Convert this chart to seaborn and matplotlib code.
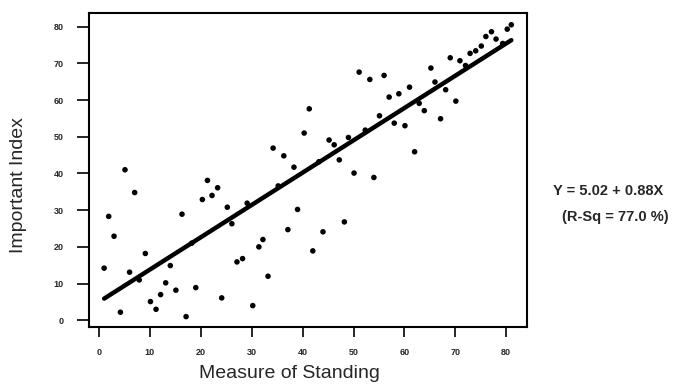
import numpy as np
import pandas as pd
import seaborn as sns
import matplotlib.pyplot as plt

standing = [1.0, 1.9, 2.95, 4.2, 5.1, 6.0, 7.0, 7.9, 9.1, 10.1, 11.2, 12.1, 13.1, 14.0,
            15.1, 16.3, 17.1, 18.2, 19.0, 20.3, 21.3, 22.2, 23.3, 24.1, 25.2, 26.1, 27.1,
            28.2, 29.1, 30.2, 31.4, 32.2, 33.2, 34.2, 35.2, 36.3, 37.1, 38.3, 39.0, 40.3,
            41.3, 42.0, 43.2, 44.0, 45.2, 46.2, 47.2, 48.2, 49.0, 50.1, 51.1, 52.3, 53.2,
            54.0, 55.1, 56.0, 57.0, 58.0, 58.9, 60.1, 61.0, 62.0, 62.9, 63.9, 65.2, 66.0,
            67.1, 68.1, 69.0, 70.1, 70.9, 72.0, 72.9, 74.0, 75.1, 76.0, 77.1, 78.0, 79.3,
            80.2, 81.0]
index = [14.2, 28.3, 22.9, 2.2, 41.0, 13.1, 34.8, 11.0, 18.2, 5.1, 3.0, 7.0, 10.2, 14.9,
         8.2, 28.9, 1.0, 21.0, 8.9, 32.9, 38.1, 34.0, 36.1, 6.1, 30.8, 26.3, 15.9,
         16.8, 31.9, 4.0, 20.0, 22.0, 12.0, 46.9, 36.6, 44.8, 24.7, 41.7, 30.2, 51.0,
         57.6, 18.9, 43.2, 24.1, 49.1, 47.8, 43.7, 26.8, 49.8, 40.1, 67.6, 51.8, 65.6,
         38.9, 55.7, 66.7, 60.8, 53.7, 61.7, 53.0, 63.5, 45.9, 59.1, 57.1, 68.7, 64.9,
         54.9, 62.8, 71.5, 59.7, 70.7, 69.4, 72.7, 73.4, 74.7, 77.3, 78.6, 76.6, 75.4,
         79.3, 80.5]

intercept = 5.02
slope = 0.88
fit_range = [1.0, 81.0]
ticks = [0, 10, 20, 30, 40, 50, 60, 70, 80]

df = pd.DataFrame({'standing': standing, 'index': index})
fit = pd.DataFrame({'x': fit_range})
fit['y'] = intercept + slope * fit['x']

sns.set_style("white")
plt.rcParams['font.family'] = ['Liberation Sans', 'DejaVu Sans']

fig = plt.figure(figsize=(6.82, 3.88), dpi=100)
ax = fig.add_axes([0.1305, 0.157, 0.642, 0.8095])

sns.scatterplot(data=df, x='standing', y='index', color='black', s=16,
                edgecolor='none', ax=ax)
sns.lineplot(data=fit, x='x', y='y', color='black', linewidth=3.2, ax=ax)

ax.set_xlim(-1.97, 84.05)
ax.set_ylim(-1.85, 83.7)
ax.set_xticks(ticks)
ax.set_yticks(ticks)
ax.tick_params(direction='out', width=1.2, labelsize=6.5, color='black',
               bottom=True, left=True)
ax.tick_params(axis='x', length=7, pad=8)
ax.tick_params(axis='y', length=9, pad=9)
for lab in ax.get_xticklabels() + ax.get_yticklabels():
    lab.set_fontweight('bold')
for sp in ax.spines.values():
    sp.set_color('black')
    sp.set_linewidth(1.5)

ax.set_xlabel("Measure of Standing", fontsize=14)
ax.set_ylabel("Important Index", fontsize=14)
ax.xaxis.set_label_coords(0.457, -0.121)
ax.yaxis.set_label_coords(-0.161, 0.452)
ax.yaxis.label.set_va('center')

fig.text(0.891, 0.508, "Y = 5.02 + 0.88X", fontsize=10.5, fontweight='bold',
         ha='center', va='center')
fig.text(0.902, 0.441, "(R-Sq = 77.0 %)", fontsize=10.5, fontweight='bold',
         ha='center', va='center')

fig.savefig("out.png", dpi=100)
